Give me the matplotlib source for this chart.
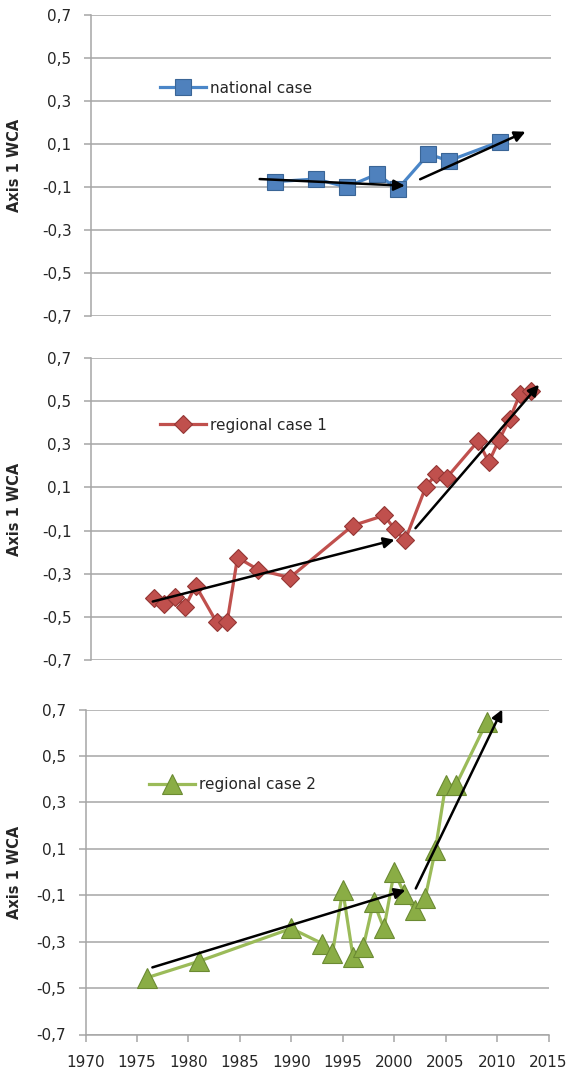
import matplotlib
import numpy as np

matplotlib.use("Agg")
import matplotlib.pyplot as plt  # noqa: E402


# national case
national_years = [1988, 1992, 1995, 1998, 2000, 2003, 2005, 2010]
national_values = [-0.075, -0.063, -0.100, -0.040, -0.110, 0.053, 0.022, 0.111]

# regional case 1
regional1_years = [1976, 1977, 1978, 1979, 1980, 1982, 1983, 1984, 1986, 1989, 1995, 1998,
                   1999, 2000, 2002, 2003, 2004, 2007, 2008, 2009, 2010, 2011, 2012]
regional1_values = [-0.411, -0.442, -0.406, -0.453, -0.355, -0.525, -0.525, -0.225, -0.282,
                    -0.318, -0.077, -0.030, -0.092, -0.146, 0.104, 0.163, 0.146, 0.316,
                    0.217, 0.321, 0.417, 0.534, 0.545]

# regional case 2
regional2_years = [1976, 1981, 1990, 1993, 1994, 1995, 1996, 1997, 1998, 1999, 2000, 2001,
                   2002, 2003, 2004, 2005, 2006, 2009]
regional2_values = [-0.455, -0.385, -0.243, -0.308, -0.351, -0.078, -0.365, -0.322, -0.128,
                    -0.243, 0.000, -0.093, -0.164, -0.114, 0.094, 0.374, 0.374, 0.647]

# trend arrows: (start year, start value, end year, end value)
national_trends = [(1986.5, -0.063, 2000.7, -0.094), (2002.2, -0.064, 2012.5, 0.157)]
regional1_trends = [(1975.9, -0.429, 1999.0, -0.143), (2001.0, -0.089, 2012.8, 0.576)]
regional2_trends = [(1976.5, -0.411, 2001.1, -0.078), (2002.1, -0.071, 2010.5, 0.700)]

y_ticks = [-0.7, -0.5, -0.3, -0.1, 0.1, 0.3, 0.5, 0.7]
x_ticks = [1970, 1975, 1980, 1985, 1990, 1995, 2000, 2005, 2010, 2015]

GRID = "#a6a6a6"
TEXT = "#262626"

panels = [
    dict(rect=[91 / 570, 1 - 316 / 1074, 460 / 570, 301 / 1074],
         years=national_years, values=national_values, trends=national_trends,
         label="national case", color="#4a86c8", face="#4f81bd", edge="#3a6596",
         marker="s", ms=11.5, legend_xy=(0.15, 0.757)),
    dict(rect=[91 / 570, 1 - 660 / 1074, 471 / 570, 302 / 1074],
         years=regional1_years, values=regional1_values, trends=regional1_trends,
         label="regional case 1", color="#c0504d", face="#c0504d", edge="#943634",
         marker="D", ms=9.5, legend_xy=(0.146, 0.778)),
    dict(rect=[85.5 / 570, 1 - 1034.5 / 1074, 463 / 570, 325 / 1074],
         years=regional2_years, values=regional2_values, trends=regional2_trends,
         label="regional case 2", color="#9bbb59", face="#8aad45", edge="#6b8a32",
         marker="^", ms=15, legend_xy=(0.137, 0.769)),
]

fig = plt.figure(figsize=(5.7, 10.74), dpi=100)

for i, p in enumerate(panels):
    ax = fig.add_axes(p["rect"])
    ax.plot(p["years"], p["values"], color=p["color"], lw=2.3, marker=p["marker"],
            ms=p["ms"], mfc=p["face"], mec=p["edge"], mew=0.8, label=p["label"], zorder=3)
    for x0, y0, x1, y1 in p["trends"]:
        ax.annotate("", xy=(x1, y1), xytext=(x0, y0),
                    arrowprops=dict(arrowstyle="-|>", color="black", lw=1.8,
                                    mutation_scale=16, shrinkA=0, shrinkB=0),
                    zorder=4)

    ax.set_xlim(1970, 2015)
    ax.set_ylim(-0.7, 0.7)
    ax.set_yticks(y_ticks)
    ax.set_yticklabels([f"{v:.1f}".replace(".", ",") for v in y_ticks])
    ax.grid(axis="y", color=GRID, lw=1.1)
    ax.set_axisbelow(True)
    for side in ("top", "right"):
        ax.spines[side].set_visible(False)
    ax.spines["left"].set_color(GRID)
    ax.spines["left"].set_linewidth(1.1)
    ax.tick_params(axis="y", length=5, width=1.1, color=GRID, pad=9,
                   labelsize=11, labelcolor=TEXT)

    if i == len(panels) - 1:
        ax.set_xticks(x_ticks)
        ax.set_xticklabels([str(v) for v in x_ticks])
        ax.spines["bottom"].set_color(GRID)
        ax.spines["bottom"].set_linewidth(1.1)
        ax.tick_params(axis="x", length=5, width=1.1, color=GRID, pad=10,
                       labelsize=11, labelcolor=TEXT)
    else:
        ax.spines["bottom"].set_visible(False)
        ax.set_xticks([])

    ax.set_ylabel("Axis 1 WCA", fontsize=10.5, fontweight="bold", color=TEXT)
    ax.yaxis.set_label_coords(-(p["rect"][0] * 570 - 22) / (p["rect"][2] * 570), 0.5)

    ax.legend(loc="center left", bbox_to_anchor=p["legend_xy"], frameon=False,
              fontsize=11, handlelength=3.0, handletextpad=0.3, borderpad=0,
              borderaxespad=0, labelcolor=TEXT)

fig.savefig("out.png", dpi=100)
plt.close(fig)
